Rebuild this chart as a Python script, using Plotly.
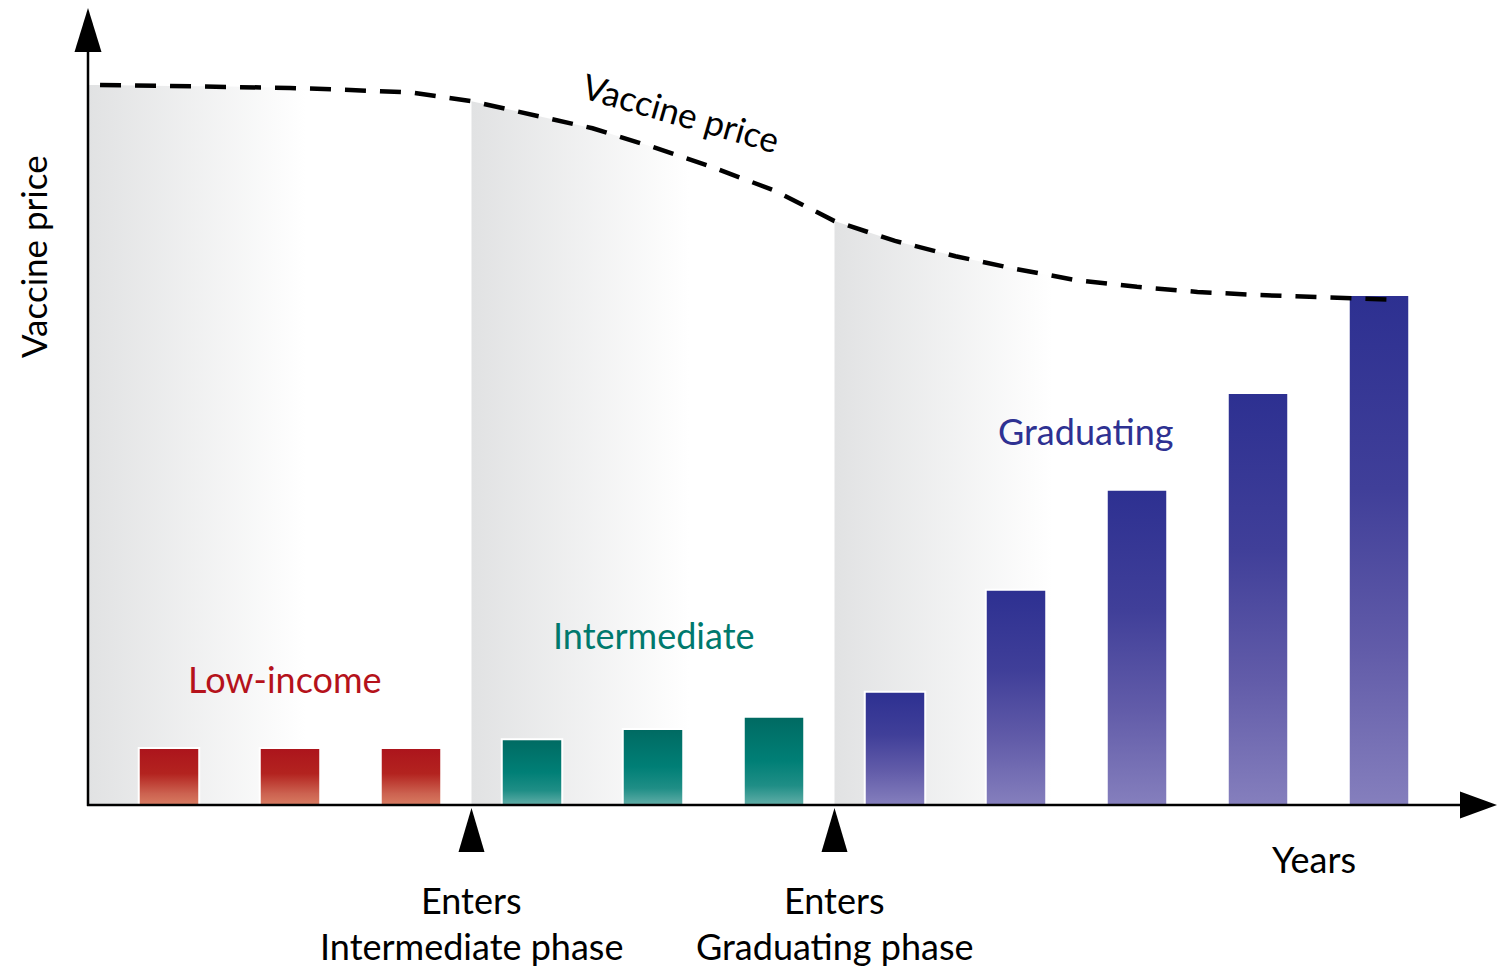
import numpy as np
import plotly.graph_objects as go

# ---------------- data ----------------
years = list(range(1, 12))
phases = ["Low-income"] * 3 + ["Intermediate"] * 3 + ["Graduating"] * 5
bar_values = [11.2, 11.2, 11.2, 12.9, 14.9, 17.3, 22.2, 42.2, 61.8, 80.8, 100.0]

price_x = [0.43, 1, 1.5, 2, 2.5, 3, 3.5, 4, 4.5, 5, 5.5, 6, 6.5, 7, 7.5,
           8, 8.5, 9, 9.5, 10, 10.5, 11, 11.09]
price_y = [141.2, 141.0, 140.9, 140.6, 140.2, 139.7, 138.0, 135.3, 132.7,
           129.0, 125.0, 120.5, 114.5, 110.6, 107.6, 105.1, 102.9, 101.6,
           100.6, 100.0, 99.5, 99.2, 99.1]

phase_starts = [3.5, 6.5]
phase_names = ["Intermediate phase", "Graduating phase"]

# ---------------- styles ----------------
W, H = 1497, 969
X0_PX, PX_PER_X = 169, 121
Y0_PX, PX_PER_Y = 805, 5.1
x_range = [1 + (0 - X0_PX) / PX_PER_X, 1 + (W - X0_PX) / PX_PER_X]
y_range = [(Y0_PX - H) / PX_PER_Y, Y0_PX / PX_PER_Y]
AXIS_X = 1 + (88 - X0_PX) / PX_PER_X
BAR_W = 0.5
FADE = 1.8
FONT = "Lato, sans-serif"
FS = 36

phase_style = {
    "Low-income": dict(text="#b5121b",
                       cs=[[0, "#d87c62"], [0.2, "#cc6250"], [0.55, "#b3231f"], [1, "#ac141c"]]),
    "Intermediate": dict(text="#00796d",
                         cs=[[0, "#62aea8"], [0.22, "#1f8e86"], [0.5, "#007f76"], [1, "#006a62"]]),
    "Graduating": dict(text="#2e3192",
                       cs=[[0, "#857fbd"], [0.3, "#625ca9"], [0.62, "#403f99"], [1, "#2d3091"]]),
}


def px_x(p):
    return p / W


def px_y(p):
    return 1 - p / H


def data_x_to_px(x):
    return X0_PX + (x - 1) * PX_PER_X


fig = go.Figure()

# shaded regions under the price curve
bounds = [AXIS_X] + phase_starts + [price_x[-1]]
px_arr = np.array(price_x)
py_arr = np.array(price_y)
for a, b in zip(bounds[:-1], bounds[1:]):
    inside = (px_arr > a) & (px_arr < b)
    xs = [a] + list(px_arr[inside]) + [b]
    ys = [float(np.interp(a, px_arr, py_arr))] + list(py_arr[inside]) + [float(np.interp(b, px_arr, py_arr))]
    fig.add_trace(go.Scatter(
        x=xs, y=ys, mode="lines", line=dict(width=0), fill="tozeroy",
        fillgradient=dict(type="horizontal", start=a, stop=a + FADE,
                          colorscale=[[0, "#e1e2e3"], [1, "#ffffff"]]),
        hoverinfo="skip", showlegend=False))

# bars (gradient filled)
for yr, v, ph in zip(years, bar_values, phases):
    x0, x1 = yr - BAR_W / 2, yr + BAR_W / 2
    fig.add_trace(go.Scatter(
        x=[x0, x1, x1, x0, x0], y=[0, 0, v, v, 0], mode="lines",
        line=dict(color="white", width=2), fill="toself",
        fillgradient=dict(type="vertical", start=0, stop=v, colorscale=phase_style[ph]["cs"]),
        hoverinfo="skip", showlegend=False))

# price curve
fig.add_trace(go.Scatter(
    x=price_x, y=price_y, mode="lines",
    line=dict(color="black", width=4.5, dash="21px,14px"),
    hoverinfo="skip", showlegend=False))

shapes = []
# axes
shapes.append(dict(type="line", xref="paper", yref="paper",
                   x0=px_x(88), x1=px_x(88), y0=px_y(806), y1=px_y(48),
                   line=dict(color="black", width=2.5)))
shapes.append(dict(type="path", xref="paper", yref="paper",
                   path=f"M {px_x(74.5)} {px_y(52)} L {px_x(101.5)} {px_y(52)} L {px_x(88)} {px_y(8)} Z",
                   fillcolor="black", line=dict(width=0)))
shapes.append(dict(type="line", xref="paper", yref="paper",
                   x0=px_x(87), x1=px_x(1462), y0=px_y(805), y1=px_y(805),
                   line=dict(color="black", width=2.5)))
shapes.append(dict(type="path", xref="paper", yref="paper",
                   path=f"M {px_x(1460)} {px_y(791.5)} L {px_x(1460)} {px_y(818.5)} L {px_x(1497)} {px_y(805)} Z",
                   fillcolor="black", line=dict(width=0)))
# phase entry markers
for xs in phase_starts:
    cx = data_x_to_px(xs)
    shapes.append(dict(type="path", xref="paper", yref="paper",
                       path=f"M {px_x(cx - 13)} {px_y(852)} L {px_x(cx + 13)} {px_y(852)} L {px_x(cx)} {px_y(808)} Z",
                       fillcolor="black", line=dict(width=0)))

annotations = []


def label(text, x, y, color="black", angle=0, size=FS):
    annotations.append(dict(text=text, xref="paper", yref="paper", x=px_x(x), y=px_y(y),
                            xanchor="center", yanchor="middle", showarrow=False,
                            textangle=angle, font=dict(family=FONT, size=size, color=color)))


label("Vaccine price", 33, 257, angle=-90, size=35)
label("Vaccine price", 681, 112, angle=16, size=35)
label("Low-income", 285, 679, color=phase_style["Low-income"]["text"])
label("Intermediate", 653, 635, color=phase_style["Intermediate"]["text"])
label("Graduating", 1086, 431, color=phase_style["Graduating"]["text"])
label("Years", 1314, 859)
for xs, name in zip(phase_starts, phase_names):
    cx = data_x_to_px(xs)
    label("Enters", cx, 900)
    label(name, cx, 946)

fig.update_layout(
    width=W, height=H, margin=dict(l=0, r=0, t=0, b=0),
    paper_bgcolor="white", plot_bgcolor="white",
    xaxis=dict(range=x_range, visible=False, fixedrange=True),
    yaxis=dict(range=y_range, visible=False, fixedrange=True),
    shapes=shapes, annotations=annotations, showlegend=False,
)

fig.write_html("out.html", config={"displayModeBar": False},
               post_script="document.body.style.margin='0';document.body.style.overflow='hidden';")
